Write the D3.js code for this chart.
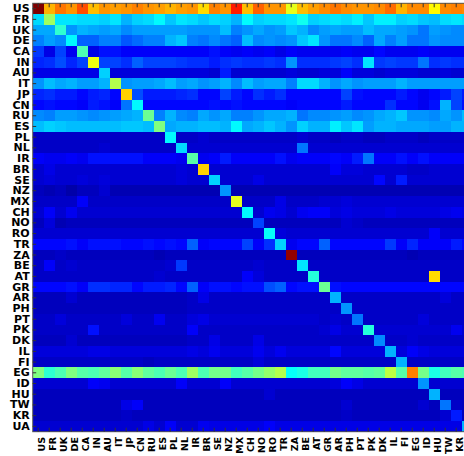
<!DOCTYPE html>
<html>
<head>
<meta charset="utf-8">
<script src="https://cdn.jsdelivr.net/npm/d3@7"></script>
<style>
    body { margin: 0; background: #fff; }
    svg { display: block; }
    .tick text { font-family: "DejaVu Sans", sans-serif; font-weight: bold; fill: #000; }
    .tick line { stroke: #333; }
</style>
</head>
<body>
<div id="chart"></div>
<script>
// Country codes, same order on both axes
const countries = ["US", "FR", "UK", "DE", "CA", "IN", "AU", "IT", "JP", "CN",
    "RU", "ES", "PL", "NL", "IR", "BR", "SE", "NZ", "MX", "CH",
    "NO", "RO", "TR", "ZA", "BE", "AT", "GR", "AR", "PH", "PT",
    "PK", "DK", "IL", "FI", "EG", "ID", "HU", "TW", "KR", "UA"];

// One row per country (0-100 colour scale)
const matrix = [
    [100,70,76,73,80,69,73,72,73,75,73,72,70,72, 73,66,75,73,85,69,78,73,73,60,69,72, 74,76,74,73,73,74,77,70,74,74,63,74,75,74],
    [34,53,35,35,34,34,33,35,30,33,34,37,32,35, 34,32,34,33,30,37,33,34,34,35,39,33, 34,35,34,36,32,36,36,33,34,32,31,34,35,34],
    [29,29,42,27,30,29,28,29,26,28,28,28,28,28, 27,27,27,31,25,27,29,27,28,32,30,26, 28,29,28,28,31,29,29,28,27,24,28,27,26,26],
    [25,28,26,37,22,22,25,25,21,23,25,25,30,32, 25,24,26,24,22,31,26,27,26,27,32,35, 27,24,24,26,22,29,25,28,24,24,27,26,26,26],
    [18,10,19,11,45,10,14,14,12,12,12,12,12,12, 12,12,14,12,11,12,11,12,10,12,11,11, 11,11,12,11,11,13,11,11,11,12,11,11,11,11],
    [16,17,20,16,19,61,19,19,17,22,19,19,19,18, 17,17,15,17,18,17,17,18,17,27,17,17, 17,18,19,17,35,18,19,18,18,24,17,18,17,17],
    [10,10,10,10,10,10,33,9,9,9,9,9,9,9, 9,9,8,15,8,8,8,8,8,9,8,8, 9,9,12,9,9,8,9,9,9,8,8,9,8,8],
    [27,31,29,30,28,28,30,55,27,28,28,29,31,28, 29,27,28,30,26,31,28,29,29,25,34,34, 30,27,29,27,28,28,28,30,28,28,28,28,28,28],
    [16,17,15,15,13,15,16,13,67,20,15,15,15,16, 17,13,13,19,15,13,17,15,17,13,13,13, 13,13,19,14,13,13,13,15,13,11,13,15,19,15],
    [13,14,13,13,12,15,14,12,24,37,13,13,13,13, 13,13,14,13,14,13,13,13,13,12,13,13, 13,13,15,13,13,13,17,13,13,11,14,30,19,14],
    [26,25,28,28,27,26,27,28,29,30,48,25,30,26, 25,29,27,29,25,25,27,29,29,30,24,26, 26,27,28,26,27,29,30,32,27,27,26,29,27,31],
    [31,33,32,31,31,31,31,31,32,32,31,50,29,30, 30,31,31,30,37,29,30,32,30,27,33,30, 30,36,32,35,28,30,30,29,29,29,28,28,30,30],
    [7,7,7,7,7,7,7,7,7,7,7,7,37,7, 7,8,7,7,7,7,7,7,7,7,8,7, 7,6,7,7,6,6,7,7,7,6,7,7,7,7],
    [7,7,7,7,7,7,8,7,7,7,7,7,7,34, 8,8,8,8,8,8,8,8,8,8,24,8, 8,8,8,8,8,8,8,8,8,8,8,8,8,8],
    [12,11,11,12,11,14,14,14,14,14,12,12,12,11, 46,11,12,15,12,12,12,12,14,11,12,12, 12,13,12,15,24,12,12,14,12,14,12,12,12,12],
    [8,10,8,8,8,8,8,8,8,8,8,8,8,9, 8,67,8,8,8,8,8,8,8,8,8,8, 8,12,9,9,8,8,8,8,7,7,8,8,8,8],
    [8,9,8,8,9,8,9,8,8,8,8,8,8,9, 8,8,33,8,8,8,10,8,8,8,8,8, 8,8,8,8,8,13,8,15,8,8,8,8,8,8],
    [6,5,6,4,6,6,8,5,5,5,5,5,5,5, 5,5,5,27,5,5,5,5,5,5,5,5, 5,5,5,5,5,5,5,5,5,5,5,5,5,5],
    [7,7,7,7,12,7,7,7,7,7,7,7,7,7, 7,7,7,7,60,7,7,7,10,7,7,7, 8,8,9,8,8,8,8,8,8,8,8,8,8,8],
    [8,12,8,11,8,8,8,8,8,8,8,8,8,8, 8,8,8,8,8,37,8,11,10,8,11,12, 12,9,10,9,9,9,10,9,9,9,9,10,11,10],
    [6,9,5,6,6,6,6,6,6,6,6,6,6,6, 6,6,6,6,6,6,19,6,6,6,6,6, 6,6,8,7,6,6,6,6,6,6,6,6,6,6],
    [8,8,8,8,8,8,8,8,8,8,8,8,8,8, 8,8,8,8,8,8,8,38,9,8,8,8, 8,8,8,8,8,8,8,8,8,8,12,8,8,8],
    [13,13,13,14,12,14,14,14,13,13,14,13,14,13, 22,12,13,13,13,19,12,17,33,11,13,13, 22,13,13,13,13,13,18,12,16,12,12,12,15,13],
    [6,6,7,6,6,6,6,6,6,6,6,5,6,6, 6,6,6,6,6,6,6,6,6,98,6,6, 6,6,6,6,6,6,6,6,5,6,6,6,6,6],
    [7,12,7,8,7,7,7,7,7,7,7,7,8,18, 7,7,7,7,7,7,8,7,7,7,35,7, 7,7,7,7,7,7,7,7,7,7,7,7,7,7],
    [7,7,7,7,7,7,7,7,7,7,7,8,7,7, 7,7,7,7,7,12,9,7,7,7,7,41, 7,7,7,7,7,7,7,7,7,7,66,7,7,7],
    [13,13,13,14,12,17,17,16,16,13,15,15,16,13, 22,12,14,14,13,14,14,20,22,13,14,14, 48,14,13,13,13,13,13,13,13,13,13,13,13,13],
    [6,6,6,8,6,6,6,6,6,6,6,6,6,6, 7,10,7,7,7,7,7,7,7,7,7,7, 7,30,7,7,7,7,7,7,7,7,7,9,7,7],
    [6,6,6,6,6,6,6,6,6,6,6,6,6,6, 7,7,7,7,7,7,7,7,7,7,7,7, 7,7,27,7,7,7,7,7,7,7,7,7,7,7],
    [7,7,9,7,7,7,7,7,9,7,7,11,7,7, 9,10,8,8,8,8,8,8,8,8,8,8, 7,8,7,24,7,7,7,7,7,9,7,7,7,7],
    [7,7,7,7,7,14,7,7,7,7,7,7,7,7, 12,7,7,7,7,7,7,7,7,7,7,7, 8,10,8,8,41,8,8,8,8,8,8,8,11,8],
    [6,6,6,8,6,6,6,6,6,6,6,6,6,6, 7,7,10,7,7,7,10,7,7,7,7,7, 7,7,7,7,7,26,7,7,8,7,7,7,7,7],
    [9,9,9,9,9,10,10,9,9,9,9,9,9,9, 10,9,11,9,9,9,11,9,11,9,9,9, 9,13,9,9,9,9,30,9,12,10,9,9,9,9],
    [7,7,7,7,7,7,7,7,7,7,6,7,7,7, 7,7,7,7,7,7,9,7,7,7,7,7, 7,7,7,7,7,7,7,30,7,7,7,7,7,7],
    [50,42,45,50,46,45,47,51,46,51,47,45,48,45, 53,45,49,49,44,46,49,52,55,38,40,44, 44,49,47,47,46,47,56,46,75,49,40,44,46,45],
    [8,8,8,8,8,12,11,8,8,8,8,8,8,12, 8,8,8,12,8,8,8,8,8,8,8,8, 8,9,12,10,8,8,8,8,8,27,8,8,8,8],
    [6,6,6,6,6,6,6,6,6,6,6,6,6,6, 6,6,6,6,6,6,6,8,6,6,6,6, 6,6,6,6,6,6,6,6,6,6,30,6,6,6],
    [6,6,6,6,6,6,6,6,10,12,6,6,6,6, 6,6,6,6,6,6,6,6,6,6,6,6, 6,6,8,6,6,6,6,6,6,8,6,24,7,6],
    [6,6,6,6,6,6,6,6,7,6,6,6,6,6, 6,6,6,6,6,6,6,6,6,6,6,6, 6,6,7,6,6,6,6,6,6,6,6,8,15,6],
    [8,8,8,8,8,8,8,8,8,8,10,8,12,8, 8,11,10,10,10,10,10,12,10,10,10,10, 10,10,10,10,10,10,10,10,10,10,10,10,10,30]
];

// Jet colour map stops
const colourStops = [0, 12.5, 37.5, 62.5, 87.5, 100];
const colourRange = ["#000080", "#0000ff", "#00ffff", "#ffff00", "#ff0000", "#800000"];

const width = 464;
const height = 456;
const margin = { top: 3.3, left: 32.7 };
const plotWidth = 440;   // wider than the window, the last column is cut
const plotHeight = 428.4;

const svg = d3.select("#chart")
    .append("svg")
    .attr("width", width)
    .attr("height", height)
    .attr("viewBox", [0, 0, width, height]);

const xScale = d3.scaleBand()
    .domain(countries)
    .range([margin.left, margin.left + plotWidth]);

const yScale = d3.scaleBand()
    .domain(countries)
    .range([margin.top, margin.top + plotHeight]);

const colour = d3.scaleLinear()
    .domain(colourStops)
    .range(colourRange)
    .clamp(true);

// Flatten to cells
const cells = [];
matrix.forEach((row, i) => {
    row.forEach((value, j) => {
        cells.push({ from: countries[i], to: countries[j], value: value });
    });
});

// Draw cells
svg.append("g")
    .selectAll("rect")
    .data(cells)
    .enter()
    .append("rect")
    .attr("x", d => xScale(d.to))
    .attr("y", d => yScale(d.from))
    .attr("width", xScale.bandwidth())
    .attr("height", yScale.bandwidth())
    .attr("fill", d => colour(d.value))
    .attr("shape-rendering", "crispEdges");

// Frame
svg.append("rect")
    .attr("x", margin.left)
    .attr("y", margin.top)
    .attr("width", plotWidth)
    .attr("height", plotHeight)
    .attr("fill", "none")
    .attr("stroke", "#555")
    .attr("stroke-width", 1);

// Left axis, ticks inside
svg.append("g")
    .attr("transform", "translate(" + margin.left + ",0)")
    .call(d3.axisLeft(yScale).tickSize(-3.5).tickPadding(3))
    .call(g => g.select(".domain").remove())
    .selectAll("text")
    .attr("font-size", 11);

// Top axis, ticks only
svg.append("g")
    .attr("transform", "translate(0," + margin.top + ")")
    .call(d3.axisTop(xScale).tickSize(-4).tickFormat(""))
    .call(g => g.select(".domain").remove());

// Bottom axis, rotated labels
svg.append("g")
    .attr("transform", "translate(0," + (margin.top + plotHeight) + ")")
    .call(d3.axisBottom(xScale).tickSize(-4))
    .call(g => g.select(".domain").remove())
    .selectAll("text")
    .attr("font-size", 9.5)
    .attr("text-anchor", "end")
    .attr("transform", "rotate(-90)")
    .attr("x", -5.3)
    .attr("y", 6.8)
    .attr("dy", 0);
</script>
</body>
</html>
